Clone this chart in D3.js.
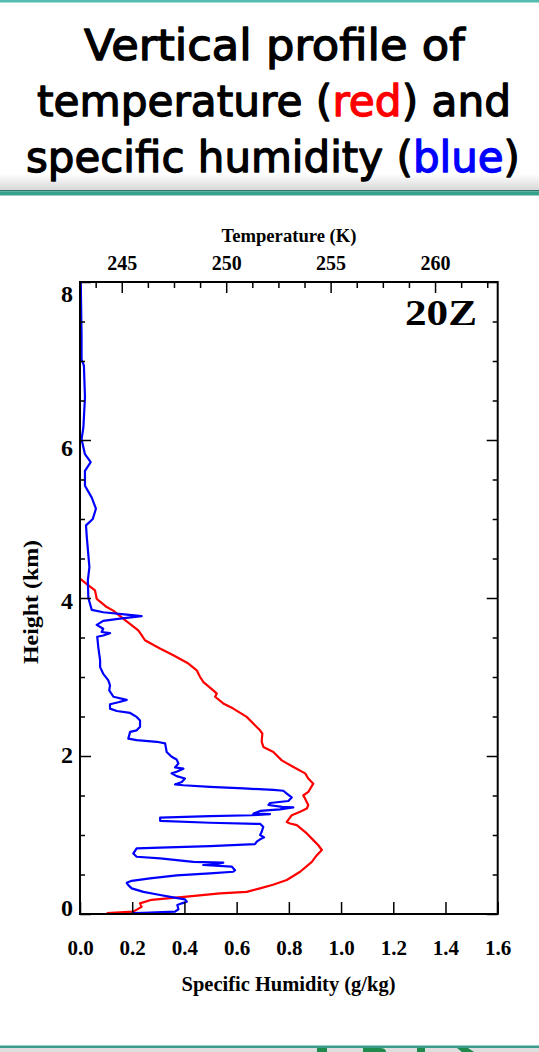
<!DOCTYPE html>
<html>
<head>
<meta charset="utf-8">
<script src="https://cdn.jsdelivr.net/npm/d3@7"></script>
<style>
  html, body { margin: 0; padding: 0; background: #ffffff; }
  svg { display: block; }
  .axis path { display: none; }
  .axis line { stroke: #000; stroke-width: 1.5; }
  .tick-label { font-family: "Liberation Serif", "Times New Roman", serif; font-weight: bold; fill: #000; }
</style>
</head>
<body>
<script>
// Sounding profile, 20Z: temperature (K) and specific humidity (g/kg) against height (km)
const tempHeight = [0.01,0.03,0.09,0.135,0.18,0.20,0.22,0.26,0.28,0.325,0.37,0.43,0.535,0.66,0.745,0.81,0.87,0.935,1.02,1.125,1.145,1.165,1.25,1.295,1.335,1.38,1.46,1.50,1.545,1.65,1.715,1.78,1.86,1.945,2.05,2.115,2.18,2.285,2.325,2.495,2.60,2.665,2.75,2.79,2.83,2.935,3.00,3.085,3.17,3.275,3.36,3.465,3.53,3.59,3.72,3.84,3.885,3.99,4.095,4.16,4.245,4.30];
const tempValues = [244.28,245.55,245.95,245.87,246.43,247.31,248.11,249.70,250.98,251.62,252.24,252.90,253.54,254.10,254.34,254.58,254.41,254.17,253.86,253.38,253.06,252.90,253.14,253.54,253.86,253.93,253.78,253.69,253.93,254.17,253.93,253.78,253.22,252.66,252.26,251.78,251.70,251.73,251.62,250.98,250.34,249.86,249.47,249.55,249.38,248.91,248.75,248.59,248.19,247.47,246.83,246.11,245.95,245.79,245.16,244.59,244.28,243.80,243.72,243.40,243.0,242.7];

const humHeight = [0.01,0.015,0.03,0.06,0.115,0.135,0.155,0.185,0.21,0.24,0.28,0.325,0.365,0.395,0.42,0.45,0.49,0.515,0.535,0.555,0.60,0.62,0.63,0.65,0.66,0.705,0.725,0.765,0.83,0.84,0.86,0.885,0.915,0.945,0.97,1.00,1.04,1.105,1.14,1.155,1.18,1.22,1.24,1.25,1.265,1.27,1.305,1.325,1.35,1.355,1.38,1.405,1.43,1.475,1.525,1.56,1.57,1.59,1.61,1.63,1.64,1.67,1.715,1.745,1.78,1.80,1.84,1.855,1.905,1.955,1.99,2.05,2.16,2.18,2.20,2.22,2.305,2.325,2.37,2.45,2.495,2.545,2.57,2.60,2.655,2.68,2.71,2.75,2.83,2.895,2.96,3.04,3.125,3.21,3.38,3.51,3.525,3.555,3.57,3.61,3.66,3.71,3.74,3.77,3.79,3.82,3.85,3.93,4.0,4.22,4.39,4.77,4.92,5.00,5.13,5.27,5.42,5.61,5.72,5.82,6.01,6.16,6.54,6.94,7.02,7.30,8.01];
const humValues = [0.198,0.243,0.364,0.377,0.373,0.390,0.409,0.402,0.357,0.307,0.243,0.198,0.185,0.179,0.198,0.268,0.370,0.498,0.587,0.594,0.581,0.472,0.524,0.549,0.434,0.307,0.217,0.204,0.217,0.307,0.498,0.670,0.677,0.690,0.705,0.690,0.696,0.702,0.690,0.498,0.307,0.307,0.498,0.658,0.728,0.664,0.690,0.766,0.817,0.774,0.722,0.728,0.798,0.811,0.792,0.779,0.741,0.626,0.498,0.396,0.364,0.390,0.402,0.370,0.351,0.370,0.396,0.364,0.377,0.370,0.351,0.332,0.326,0.294,0.217,0.185,0.192,0.217,0.230,0.230,0.217,0.192,0.141,0.115,0.115,0.147,0.179,0.128,0.112,0.115,0.108,0.089,0.077,0.077,0.070,0.066,0.089,0.115,0.083,0.089,0.064,0.089,0.153,0.236,0.179,0.089,0.045,0.038,0.032,0.030,0.036,0.026,0.023,0.049,0.061,0.045,0.019,0.019,0.041,0.019,0.006,0.013,0.019,0.015,0.006,0.006,0.003];

const tempTicks = [245, 250, 255, 260];
const tempMinorTicks = [243.75, 246.25, 247.5, 248.75, 251.25, 252.5, 253.75, 256.25, 257.5, 258.75, 261.25, 262.5];
const humTicks = [0.0, 0.2, 0.4, 0.6, 0.8, 1.0, 1.2, 1.4, 1.6];
const heightTicks = [0, 2, 4, 6, 8];
const heightMinorTicks = [0.5, 1, 1.5, 2.5, 3, 3.5, 4.5, 5, 5.5, 6.5, 7, 7.5];

const titleLines = [
  [{t: "Vertical profile of", c: "#000"}],
  [{t: "temperature (", c: "#000"}, {t: "red", c: "#ff0000"}, {t: ") and", c: "#000"}],
  [{t: "specific humidity (", c: "#000"}, {t: "blue", c: "#0000ff"}, {t: ")", c: "#000"}]
];

const W = 539, H = 1052;
const svg = d3.select("body").append("svg").attr("width", W).attr("height", H);

// ---- slide decorations ----
const defs = svg.append("defs");
const shade = defs.append("linearGradient").attr("id", "shade").attr("x1", 0).attr("x2", 0).attr("y1", 0).attr("y2", 1);
shade.append("stop").attr("offset", "0%").attr("stop-color", "#ffffff");
shade.append("stop").attr("offset", "100%").attr("stop-color", "#d8d8d8");

svg.append("rect").attr("x", 0).attr("y", 0).attr("width", W).attr("height", 2.5).attr("fill", "#52bcb0");
svg.append("rect").attr("x", 0).attr("y", 174).attr("width", W).attr("height", 16).attr("fill", "url(#shade)");
svg.append("rect").attr("x", 0).attr("y", 190).attr("width", W).attr("height", 1.3).attr("fill", "#2a7a6c");
svg.append("rect").attr("x", 0).attr("y", 191.3).attr("width", W).attr("height", 4.2).attr("fill", "#36a08a");

svg.append("rect").attr("x", 0).attr("y", 1045.5).attr("width", W).attr("height", 2.5).attr("fill", "#3a9d8c");
svg.append("rect").attr("x", 0).attr("y", 1048).attr("width", W).attr("height", 4).attr("fill", "#dedede");
const logo = svg.append("g").attr("fill", "#1f8a4c");
logo.append("rect").attr("x", 317).attr("y", 1048).attr("width", 10).attr("height", 4);
logo.append("path").attr("d", "M363,1048 H380 Q386,1048 386,1052 H363 Z");
logo.append("rect").attr("x", 417).attr("y", 1048).attr("width", 8).attr("height", 4);
logo.append("path").attr("d", "M457,1048 H468 L474,1052 H462 Z");

// ---- title: each line laid out piece by piece, then fitted to its width ----
const titleSpec = [
  {cx: 274.5, y: 60, len: 381},
  {cx: 274, y: 116, len: 474},
  {cx: 273, y: 172, len: 494}
];
titleLines.forEach((parts, i) => {
  const g = svg.append("g");
  let cursor = 0;
  parts.forEach(p => {
    const t = g.append("text")
      .attr("x", cursor).attr("y", 0)
      .attr("fill", p.c).attr("stroke", p.c).attr("stroke-width", 1.3)
      .attr("stroke-linejoin", "round")
      .style("font-family", "'DejaVu Sans', sans-serif")
      .style("font-size", "43px")
      .style("white-space", "pre")
      .attr("xml:space", "preserve")
      .text(p.t);
    cursor += t.node().getComputedTextLength();
  });
  const s = titleSpec[i].len / cursor;
  g.attr("transform", `translate(${titleSpec[i].cx - titleSpec[i].len / 2},${titleSpec[i].y}) scale(${s},1)`);
});

// ---- chart ----
const plot = {left: 80, right: 497.7, top: 282, bottom: 914};

const x = d3.scaleLinear().domain([0, 1.6]).range([plot.left, plot.right]);
const xT = d3.scaleLinear().domain([243, 263]).range([plot.left, plot.right]);
const y = d3.scaleLinear().domain([0, 8]).range([plot.bottom, plot.top]);
// left tick labels sit on their own slightly tighter scale
const yLabel = d3.scaleLinear().domain([0, 8]).range([908, 294]);

defs.append("clipPath").attr("id", "plotclip")
  .append("rect").attr("x", plot.left).attr("y", plot.top)
  .attr("width", plot.right - plot.left).attr("height", plot.bottom - plot.top);

// profiles
const tempData = tempHeight.map((h, i) => ({h, v: tempValues[i]}));
const humData = humHeight.map((h, i) => ({h, v: humValues[i]}));

const lines = svg.append("g").attr("clip-path", "url(#plotclip)");
lines.append("path").datum(tempData)
  .attr("fill", "none").attr("stroke", "#ff0000").attr("stroke-width", 2.2)
  .attr("stroke-linejoin", "round")
  .attr("d", d3.line().x(d => xT(d.v)).y(d => y(d.h)));
lines.append("path").datum(humData)
  .attr("fill", "none").attr("stroke", "#0000ff").attr("stroke-width", 2.2)
  .attr("stroke-linejoin", "round")
  .attr("d", d3.line().x(d => x(d.v)).y(d => y(d.h)));

// bottom axis: specific humidity
const gB = svg.append("g").attr("class", "axis").attr("transform", `translate(0,${plot.bottom})`)
  .call(d3.axisBottom(x).tickValues(humTicks).tickSize(-12).tickPadding(26).tickFormat(d3.format(".1f")));
gB.selectAll("text").attr("class", "tick-label").style("font-size", "21px");

// top axis: temperature
const gT = svg.append("g").attr("class", "axis").attr("transform", `translate(0,${plot.top})`)
  .call(d3.axisTop(xT).tickValues(tempTicks).tickSize(-11).tickPadding(12).tickFormat(d3.format("d")));
gT.selectAll("text").attr("class", "tick-label").style("font-size", "20px");
svg.append("g").attr("class", "axis").attr("transform", `translate(0,${plot.top})`)
  .call(d3.axisTop(xT).tickValues(tempMinorTicks).tickSize(-6).tickFormat(""));

// left axis: height
svg.append("g").attr("class", "axis").attr("transform", `translate(${plot.left},0)`)
  .call(d3.axisLeft(y).tickValues(heightTicks).tickSize(-11).tickFormat(""));
svg.append("g").attr("class", "axis").attr("transform", `translate(${plot.left},0)`)
  .call(d3.axisLeft(y).tickValues(heightMinorTicks).tickSize(-5).tickFormat(""));
svg.append("g").selectAll("text").data(heightTicks).join("text")
  .attr("class", "tick-label")
  .attr("x", plot.left - 7).attr("y", d => yLabel(d))
  .attr("dy", "0.34em").attr("text-anchor", "end")
  .style("font-size", "24px")
  .text(d => d);

// right axis: mirrored height ticks
svg.append("g").attr("class", "axis").attr("transform", `translate(${plot.right},0)`)
  .call(d3.axisRight(y).tickValues(heightTicks).tickSize(-11).tickFormat(""));
svg.append("g").attr("class", "axis").attr("transform", `translate(${plot.right},0)`)
  .call(d3.axisRight(y).tickValues(heightMinorTicks).tickSize(-5).tickFormat(""));

// frame
svg.append("rect")
  .attr("x", plot.left).attr("y", plot.top)
  .attr("width", plot.right - plot.left).attr("height", plot.bottom - plot.top)
  .attr("fill", "none").attr("stroke", "#000").attr("stroke-width", 2);

// axis titles
svg.append("text").attr("class", "tick-label")
  .attr("x", 289).attr("y", 242).attr("text-anchor", "middle")
  .attr("textLength", 135).attr("lengthAdjust", "spacingAndGlyphs")
  .style("font-size", "18px").text("Temperature (K)");
svg.append("text").attr("class", "tick-label")
  .attr("x", 288.5).attr("y", 991).attr("text-anchor", "middle")
  .attr("textLength", 214).attr("lengthAdjust", "spacingAndGlyphs")
  .style("font-size", "20px").text("Specific Humidity (g/kg)");
svg.append("text").attr("class", "tick-label")
  .attr("transform", "translate(38,602) rotate(-90)")
  .attr("text-anchor", "middle")
  .attr("textLength", 124).attr("lengthAdjust", "spacingAndGlyphs")
  .style("font-size", "22px").text("Height (km)");

// time stamp
svg.append("text").attr("class", "tick-label")
  .attr("x", 441).attr("y", 325).attr("text-anchor", "middle")
  .attr("textLength", 72).attr("lengthAdjust", "spacingAndGlyphs")
  .style("font-size", "35px").text("20Z");
</script>
</body>
</html>
